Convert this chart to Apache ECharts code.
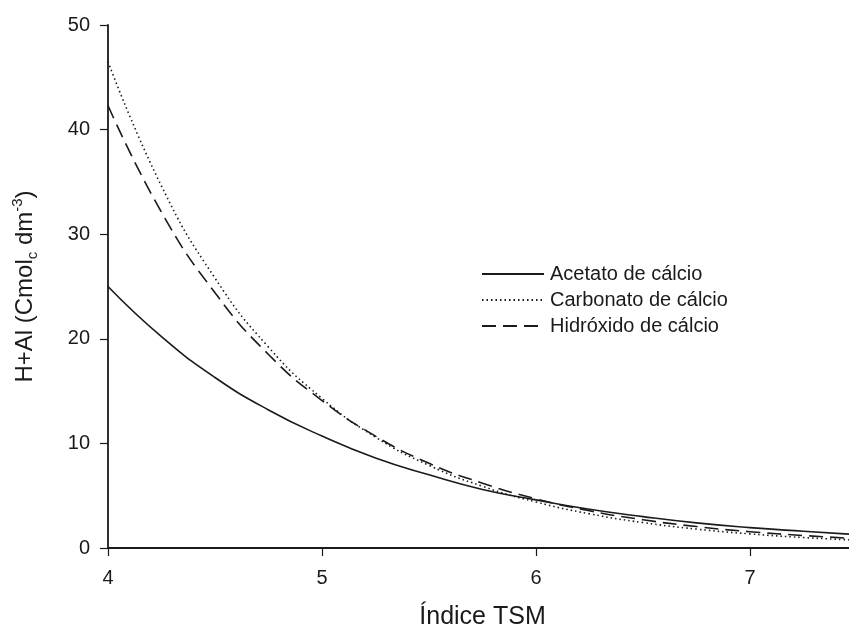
<!DOCTYPE html>
<html>
<head>
<meta charset="utf-8">
<script src="https://cdn.jsdelivr.net/npm/echarts@6/dist/echarts.min.js"></script>
<style>
  html, body { margin: 0; padding: 0; background: #fff; }
  #chart { width: 849px; height: 630px; }
</style>
</head>
<body>
<div id="chart"></div>
<script>
// valores
const tsm = [4.0, 4.25, 4.5, 4.75, 5.0, 5.25, 5.5, 5.75, 6.0, 6.25, 6.5, 6.75, 7.0, 7.25, 7.5]
const acetato = [25.0, 20.2, 16.3, 13.2, 10.7, 8.6, 7.0, 5.6, 4.6, 3.7, 3.0, 2.4, 1.95, 1.6, 1.28]
const carbonato = [46.5, 34.6, 25.8, 19.2, 14.3, 10.6, 7.9, 5.9, 4.4, 3.27, 2.43, 1.81, 1.35, 1.0, 0.75]
const hidroxido = [42.3, 32.1, 24.4, 18.5, 14.1, 10.7, 8.1, 6.2, 4.7, 3.56, 2.7, 2.05, 1.56, 1.19, 0.9]
const seriesNames = ['Acetato de cálcio', 'Carbonato de cálcio', 'Hidróxido de cálcio']

const pairs = arr => tsm.map((x, i) => [x, arr[i]])

const chart = echarts.init(document.getElementById('chart'))
const font = 'Liberation Sans, Arial, sans-serif'
const ink = '#1a1a1a'

chart.setOption({
  animation: false,
  color: [ink, ink, ink],
  grid: { left: 108, right: -8, top: 25, bottom: 82, outerBoundsMode: 'none', containLabel: false },
  legend: {
    orient: 'vertical',
    left: 476,
    top: 259,
    itemWidth: 62,
    itemHeight: 18,
    itemGap: 6,
    itemStyle: { opacity: 0 },
    textStyle: { fontFamily: font, fontSize: 20, color: ink, padding: [0, 0, 0, 1] },
    data: seriesNames
  },
  xAxis: {
    type: 'value',
    min: 4,
    max: 7.5,
    interval: 1,
    name: 'Índice TSM',
    nameLocation: 'middle',
    nameGap: 57,
    nameTextStyle: { fontFamily: font, fontSize: 25, color: ink },
    splitLine: { show: false },
    axisLine: { lineStyle: { color: ink, width: 1.8 } },
    axisTick: { length: 8, lineStyle: { color: ink, width: 1.2 } },
    axisLabel: { fontFamily: font, fontSize: 20, color: ink, margin: 20, showMaxLabel: false }
  },
  yAxis: {
    type: 'value',
    min: 0,
    max: 50,
    interval: 10,
    name: '{n|H+Al (Cmol}{sub|c}{n| dm}{sup|-3}{n|)}',
    nameLocation: 'middle',
    nameGap: 68,
    nameTextStyle: {
      fontFamily: font,
      color: ink,
      rich: {
        n: { fontFamily: font, fontSize: 24, color: ink, lineHeight: 30 },
        sub: { fontFamily: font, fontSize: 15, color: ink, lineHeight: 30, verticalAlign: 'bottom' },
        sup: { fontFamily: font, fontSize: 15, color: ink, lineHeight: 30, verticalAlign: 'top' }
      }
    },
    splitLine: { show: false },
    axisLine: { show: true, lineStyle: { color: ink, width: 1.8 } },
    axisTick: { show: true, length: 8, lineStyle: { color: ink, width: 1.2 } },
    axisLabel: { fontFamily: font, fontSize: 20, color: ink, margin: 18 }
  },
  series: [
    {
      name: seriesNames[0],
      type: 'line',
      smooth: true,
      symbol: 'none',
      data: pairs(acetato),
      lineStyle: { color: ink, width: 1.6, type: 'solid' }
    },
    {
      name: seriesNames[1],
      type: 'line',
      smooth: true,
      symbol: 'none',
      data: pairs(carbonato),
      lineStyle: { color: ink, width: 1.6, type: [1.5, 3] }
    },
    {
      name: seriesNames[2],
      type: 'line',
      smooth: true,
      symbol: 'none',
      data: pairs(hidroxido),
      lineStyle: { color: ink, width: 1.6, type: [14, 7] }
    }
  ]
})
</script>
</body>
</html>
